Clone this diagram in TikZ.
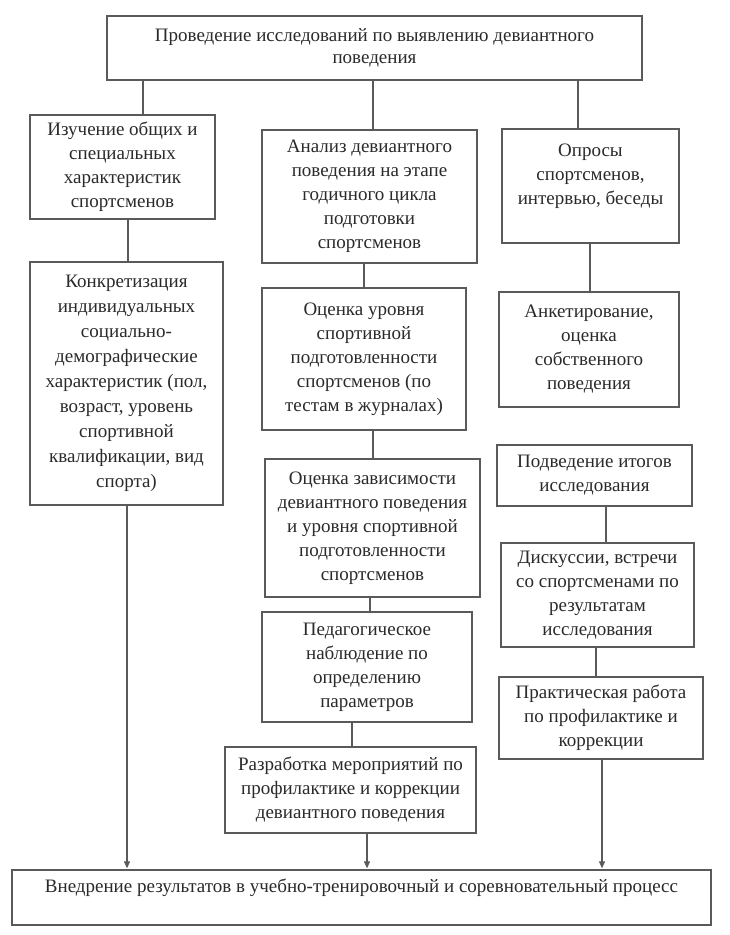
\documentclass[tikz,border=0pt]{standalone}
\usepackage{fontspec}
\setmainfont{Liberation Serif}
\usetikzlibrary{arrows.meta}
\definecolor{linec}{HTML}{5A5A5A}
\definecolor{textc}{HTML}{2A2A2A}
\tikzset{
  box/.style={draw=linec, line width=1.3pt, align=center, inner sep=0pt, text=textc,
    font=\fontsize{19}{24}\selectfont},
  conn/.style={draw=linec, line width=1.2pt},
  arr/.style={draw=linec, line width=1.1pt, -{Triangle[length=7pt,width=6pt]}}
}
\newcommand{\bx}[7]{% name, left, top, right, bottom, text
  \node[box, minimum width={#4-#2}, minimum height={#5-#3}] (#1) at ({(#2+#4)/2},{(#3+#5)/2}) {#6};}
\begin{document}
\begin{tikzpicture}[x=1pt,y=-1pt]
\fill[white] (0,0) rectangle (729,935);
\useasboundingbox (0,0) rectangle (729,935);

\bx{top}{107}{16}{642}{80}{Проведение исследований по выявлению девиантного\\[-2pt]поведения}{}
\bx{L1}{30}{115}{215}{219}{Изучение общих и\\специальных\\характеристик\\спортсменов}{}
\bx{L2}{30}{262}{223}{505}{Конкретизация\\[1pt]индивидуальных\\[1pt]социально-\\[1pt]демографические\\[1pt]характеристик (пол,\\[1pt]возраст, уровень\\[1pt]спортивной\\[1pt]квалификации, вид\\[1pt]спорта)}{}
\bx{M1}{262}{130}{477}{263}{Анализ девиантного\\поведения на этапе\\годичного цикла\\подготовки\\спортсменов}{}
\bx{M2}{262}{288}{466}{430}{Оценка уровня\\спортивной\\подготовленности\\спортсменов (по\\тестам в журналах)}{}
\bx{M3}{265}{459}{480}{597}{Оценка зависимости\\девиантного поведения\\и уровня спортивной\\подготовленности\\спортсменов}{}
\bx{M4}{262}{612}{472}{722}{Педагогическое\\наблюдение по\\определению\\параметров}{}
\bx{M5}{225}{747}{476}{833}{Разработка мероприятий по\\профилактике и коррекции\\девиантного поведения}{}
\bx{R1}{502}{129}{679}{243}{Опросы\\спортсменов,\\интервью, беседы\\\mbox{}}{}
\bx{R2}{499}{292}{679}{407}{Анкетирование,\\оценка\\собственного\\поведения}{}
\bx{R3}{497}{445}{692}{506}{Подведение итогов\\исследования}{}
\bx{R4}{501}{543}{694}{647}{Дискуссии, встречи\\со спортсменами по\\результатам\\исследования}{}
\bx{R5}{499}{677}{703}{759}{Практическая работа\\по профилактике и\\коррекции}{}
\bx{B}{12}{870}{711}{925}{Внедрение результатов в учебно-тренировочный и соревновательный процесс\\\mbox{}}{}

\coordinate (xTL) at (143,0);
\coordinate (xTM) at (373,0);
\coordinate (xTR) at (578,0);
\coordinate (xL12) at (128,0);
\coordinate (xM12) at (364,0);
\coordinate (xM23) at (373,0);
\coordinate (xM34) at (370,0);
\coordinate (xM45) at (352,0);
\coordinate (xR12) at (590,0);
\coordinate (xR34) at (606,0);
\coordinate (xR45) at (596,0);
\coordinate (xaL) at (127,0);
\coordinate (xaM) at (367,0);
\coordinate (xaR) at (602,0);

\draw[conn] (top.south -| xTL) -- (L1.north -| xTL);
\draw[conn] (top.south -| xTM) -- (M1.north -| xTM);
\draw[conn] (top.south -| xTR) -- (R1.north -| xTR);
\draw[conn] (L1.south -| xL12) -- (L2.north -| xL12);
\draw[conn] (M1.south -| xM12) -- (M2.north -| xM12);
\draw[conn] (M2.south -| xM23) -- (M3.north -| xM23);
\draw[conn] (M3.south -| xM34) -- (M4.north -| xM34);
\draw[conn] (M4.south -| xM45) -- (M5.north -| xM45);
\draw[conn] (R1.south -| xR12) -- (R2.north -| xR12);
\draw[conn] (R3.south -| xR34) -- (R4.north -| xR34);
\draw[conn] (R4.south -| xR45) -- (R5.north -| xR45);
\draw[arr] (L2.south -| xaL) -- ([yshift=1pt]B.north -| xaL);
\draw[arr] (M5.south -| xaM) -- ([yshift=1pt]B.north -| xaM);
\draw[arr] (R5.south -| xaR) -- ([yshift=1pt]B.north -| xaR);
\end{tikzpicture}
\end{document}
